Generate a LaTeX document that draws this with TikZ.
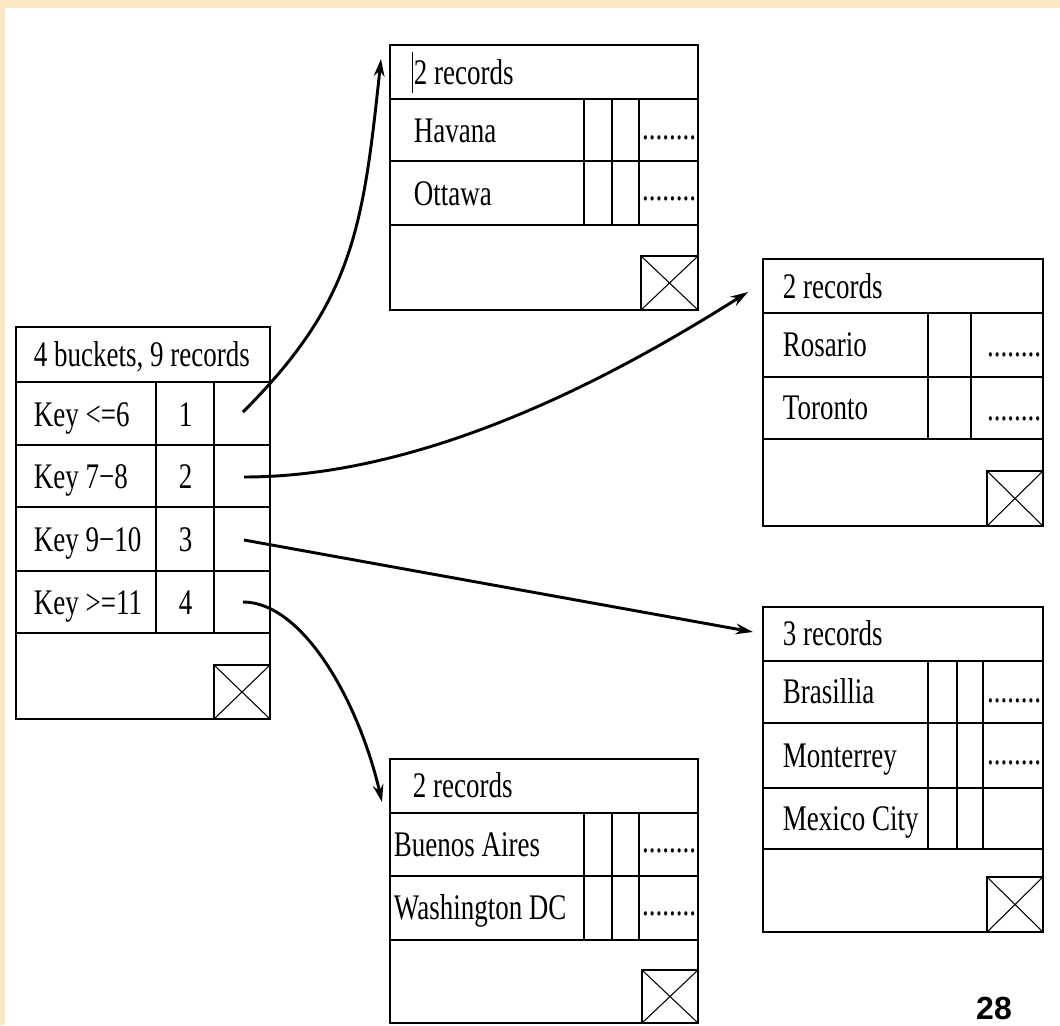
\documentclass[tikz,border=0pt]{standalone}
\usepackage{fontspec}
\setmainfont{Liberation Serif}[FakeStretch=0.75]
\newfontfamily\pagefont{Liberation Sans}
\usetikzlibrary{arrows.meta}
\definecolor{slidebg}{RGB}{250,232,196}

\begin{document}
\begin{tikzpicture}[x=0.75pt, y=-0.75pt, line width=1.4pt,
        txt/.style={anchor=base west, inner sep=0pt, font=\fontsize{27}{30}\selectfont},
        num/.style={anchor=base, inner sep=0pt, font=\fontsize{27}{30}\selectfont},
        dots/.style={anchor=base east, inner sep=0pt, font=\fontsize{27}{30}\selectfont},
        ptr/.style={line width=2.2pt, -{Stealth[length=13pt, width=8pt]}},
        nil/.style={line width=0.8pt}]
    % Background
    \useasboundingbox (0,0) rectangle (1060,1025);
    \fill[white] (0,0) rectangle (1060,1025);
    \fill[slidebg] (0,0) rectangle (1060,7.5);
    \fill[slidebg] (0,0) rectangle (5,1025);

    % Directory
    \draw (16,327) rectangle (270,719);
    \draw (16,382) -- (270,382) (16,445) -- (270,445) (16,507) -- (270,507)
          (16,571) -- (270,571) (16,633) -- (270,633);
    \draw (156,382) -- (156,633) (214,382) -- (214,633);
    \draw (214,665) rectangle (270,719);
    \draw[nil] (214,665) -- (270,719) (214,719) -- (270,665);
    \node[txt] (dir) at (33,366) {4 buckets, 9 records};
    \node[txt] (k1) at (33,426) {Key <=6};
    \node[txt] (k2) at (33,488) {Key 7−8};
    \node[txt] (k3) at (33,551) {Key 9−10};
    \node[txt] (k4) at (33,614) {Key >=11};
    \node[num] (n1) at (185.5,426) {1};
    \node[num] (n2) at (185.5,488) {2};
    \node[num] (n3) at (185.5,551) {3};
    \node[num] (n4) at (185.5,614) {4};
    \coordinate (p1) at (243,412);
    \coordinate (p2) at (244,477);
    \coordinate (p3) at (244,540);
    \coordinate (p4) at (243,602);

    % Bucket 1
    \draw (390,45) rectangle (698,310);
    \draw (390,99) -- (698,99) (390,161) -- (698,161) (390,225) -- (698,225);
    \draw (584,99) -- (584,225) (612,99) -- (612,225) (639,99) -- (639,225);
    \draw (641,256) rectangle (698,310);
    \draw[nil] (641,256) -- (698,310) (641,310) -- (698,256);
    \draw[line width=0.6pt] (412,52) -- (412,93);
    \node[txt] (b1h) at (413,84) {2 records};
    \node[txt] (b1r1) at (413,142) {Havana};
    \node[txt] (b1r2) at (413,205) {Ottawa};
    \node[dots] (b1d1) at (697,139) {........};
    \node[dots] (b1d2) at (697,200) {........};
    \coordinate (t1) at (381,59);

    % Bucket 2
    \draw (763,259) rectangle (1043,526);
    \draw (763,313) -- (1043,313) (763,377) -- (1043,377) (763,439) -- (1043,439);
    \draw (928,313) -- (928,439) (971,313) -- (971,439);
    \draw (987,471) rectangle (1043,526);
    \draw[nil] (987,471) -- (1043,526) (987,526) -- (1043,471);
    \node[txt] (b2h) at (782,298) {2 records};
    \node[txt] (b2r1) at (782,356) {Rosario};
    \node[txt] (b2r2) at (782,419) {Toronto};
    \node[dots] (b2d1) at (1042,356) {........};
    \node[dots] (b2d2) at (1042,420) {........};
    \coordinate (t2) at (748,292);

    % Bucket 3
    \draw (763,607) rectangle (1043,932);
    \draw (763,661) -- (1043,661) (763,723) -- (1043,723) (763,788) -- (1043,788)
          (763,849) -- (1043,849);
    \draw (928,661) -- (928,849) (957,661) -- (957,849) (983,661) -- (983,849);
    \draw (987,877) rectangle (1043,932);
    \draw[nil] (987,877) -- (1043,932) (987,932) -- (1043,877);
    \node[txt] (b3h) at (782,645) {3 records};
    \node[txt] (b3r1) at (782,703) {Brasillia};
    \node[txt] (b3r2) at (782,767) {Monterrey};
    \node[txt] (b3r3) at (782,830) {Mexico City};
    \node[dots] (b3d1) at (1042,702) {........};
    \node[dots] (b3d2) at (1042,764) {........};
    \coordinate (t3) at (753,632);

    % Bucket 4
    \draw (390,759) rectangle (698,1023);
    \draw (390,813) -- (698,813) (390,876) -- (698,876) (390,940) -- (698,940);
    \draw (584,813) -- (584,940) (612,813) -- (612,940) (639,813) -- (639,940);
    \draw (642,970) rectangle (698,1023);
    \draw[nil] (642,970) -- (698,1023) (642,1023) -- (698,970);
    \node[txt] (b4h) at (412,797) {2 records};
    \node[txt] (b4r1) at (393,856) {Buenos Aires};
    \node[txt] (b4r2) at (393,919) {Washington DC};
    \node[dots] (b4d1) at (697,852) {........};
    \node[dots] (b4d2) at (697,915) {........};
    \coordinate (t4) at (382,802);

    % Draw pointers
    \draw[ptr] (p1) .. controls +(110,-110) and +(-18,170) .. (t1);
    \draw[ptr] (p2) .. controls +(200,0) and +(-102,64) .. (t2);
    \draw[ptr] (p3) -- (t3);
    \draw[ptr] (p4) .. controls +(60,0) and +(-23,-100) .. (t4);

    % Slide number
    \node[inner sep=0pt, font=\pagefont\bfseries\fontsize{24}{26}\selectfont] (pg) at (994,1008) {28};
\end{tikzpicture}
\end{document}
